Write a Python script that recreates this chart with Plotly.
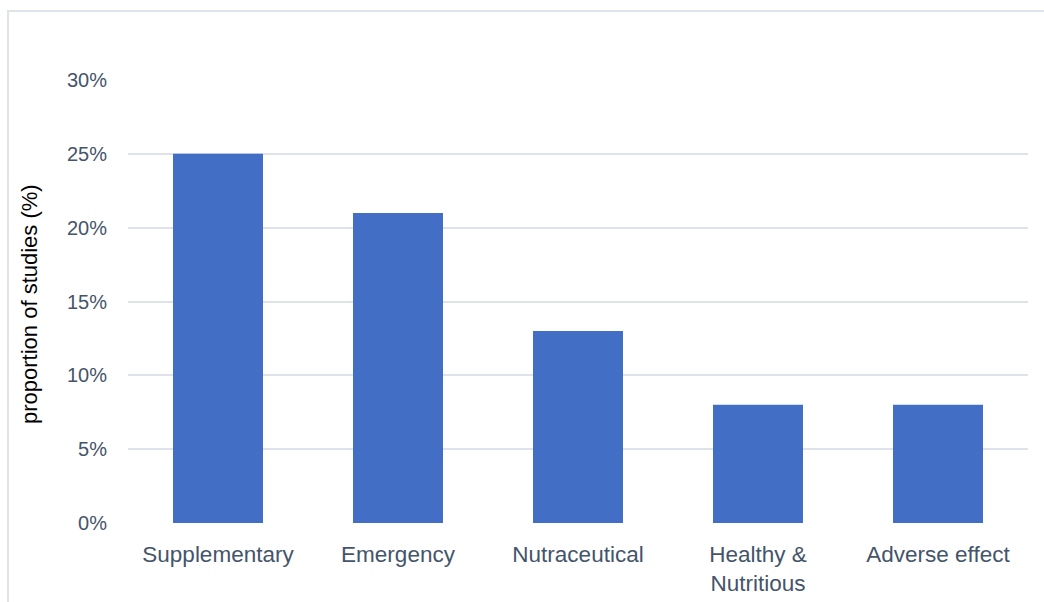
import plotly.graph_objects as go

categories = ["Supplementary", "Emergency", "Nutraceutical", "Healthy &<br>Nutritious", "Adverse effect"]
values = [0.25, 0.21, 0.13, 0.08, 0.08]
y_ticks = [0, 0.05, 0.10, 0.15, 0.20, 0.25, 0.30]
y_tick_labels = ["0%", "5%", "10%", "15%", "20%", "25%", "30%"]

fig = go.Figure(
    go.Bar(
        x=categories,
        y=values,
        width=0.5,
        marker=dict(color="#426fc5", line=dict(width=0)),
    )
)

L, R, T, B = 128, 1044 - 1028, 80, 602 - 523
W, H = 1044, 602
pw, ph = W - L - R, H - T - B

fig.update_layout(
    width=W,
    height=H,
    margin=dict(l=L, r=R, t=T, b=B, pad=0, autoexpand=False),
    paper_bgcolor="white",
    plot_bgcolor="white",
    showlegend=False,
    font=dict(family="Liberation Sans, Arial, sans-serif", color="#44546a"),
    xaxis=dict(
        showgrid=False,
        showline=False,
        zeroline=False,
        ticks="",
        automargin=False,
        tickfont=dict(size=22.5, color="#44546a"),
        ticklabelstandoff=15,
        fixedrange=True,
    ),
    yaxis=dict(
        range=[0, 0.30],
        tickvals=y_ticks,
        ticktext=y_tick_labels,
        showgrid=True,
        gridcolor="#dfe2e9",
        gridwidth=2,
        zeroline=False,
        showline=False,
        ticks="",
        automargin=False,
        tickfont=dict(size=20, color="#44546a"),
        ticklabelstandoff=20,
        fixedrange=True,
    ),
    annotations=[
        dict(
            text="proportion of studies (%)",
            textangle=-90,
            xref="paper",
            yref="paper",
            x=(29 - L) / pw,
            y=(523 - 304) / ph,
            xanchor="center",
            yanchor="middle",
            showarrow=False,
            font=dict(size=22, color="#000000", family="Liberation Sans, Arial, sans-serif"),
        )
    ],
    shapes=[
        dict(
            type="rect",
            xref="paper",
            yref="paper",
            x0=(8 - L) / pw,
            x1=(1060 - L) / pw,
            y0=(H - B - 640) / ph,
            y1=(H - B - 11) / ph,
            line=dict(color="#dfe3ea", width=2),
            fillcolor="rgba(0,0,0,0)",
            layer="below",
        )
    ],
)

fig.write_html("out.html")
